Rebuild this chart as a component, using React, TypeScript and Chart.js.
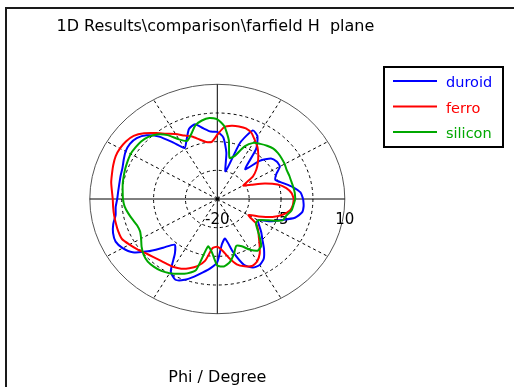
import React, { useEffect, useRef } from "react";
import { Chart, registerables } from "chart.js";

Chart.register(...registerables);

// Phi angles (degrees, counter-clockwise from the right-hand horizontal axis)
const phi = [
  0, 5, 10, 15, 20, 25, 30, 35, 40, 45, 50, 55,
  60, 65, 70, 75, 80, 85, 90, 95, 100, 105, 110, 115,
  120, 125, 130, 135, 140, 145, 150, 155, 160, 165, 170, 175,
  180, 185, 190, 195, 200, 205, 210, 215, 220, 225, 230, 235,
  240, 245, 250, 255, 260, 265, 270, 275, 280, 285, 290, 295,
  300, 305, 310, 315, 320, 325, 330, 335, 340, 345, 350, 355,
];

// Farfield values (dB)
const duroid = [
  0.2, -0.35, -2.0, -3.95, -5.45, -4.7, -3.0, -2.95, -3.5, -5.9, -9.8, -4.1,
  -1.1, -0.2, -4.4, -12.5, -7.7, -3.8, -2.45, -2.3, -1.25, 0.25, -0.5, -2.9,
  -4.6, -2.0, 1.3, 3.55, 4.75, 5.1, 4.9, 4.3, 3.75, 3.55, 3.4, 3.4,
  3.55, 4.0, 4.3, 5.35, 6.1, 6.4, 5.7, 4.3, 1.3, -2.0, -4.4, -2.6,
  1.9, 3.3, 2.5, 1.0, -0.5, -1.85, -3.5, -8.0, -9.5, -5.6, -1.7, -0.2,
  -0.05, -0.95, -2.9, -5.0, -6.5, -8.0, -8.9, -6.2, -3.95, -1.1, 0.25, 0.4,
];

const ferro = [
  -2.0, -2.45, -3.5, -5.3, -8.15, -11.15, -12.95, -9.8, -8.0, -6.5, -5.0, -3.5,
  -2.3, -0.95, -0.35, -0.35, -0.55, -1.1, -3.2, -5.0, -4.85, -3.9, -2.6, -1.7,
  -0.35, 0.85, 2.55, 4.35, 5.7, 6.25, 6.45, 6.4, 6.05, 5.65, 5.35, 4.9,
  4.6, 4.6, 4.65, 4.7, 4.8, 4.75, 3.85, 2.95, 2.05, 1.4, 0.95, 0.7,
  0.55, 0.1, -0.75, -1.85, -3.65, -7.1, -7.5, -6.5, -4.4, -2.3, -1.25, -0.65,
  -1.2, -2.6, -4.55, -6.2, -7.45, -8.9, -11.6, -9.2, -6.2, -4.1, -2.65, -2.15,
];

const silicon = [
  -1.65, -1.7, -1.85, -2.0, -2.0, -2.0, -1.7, -1.5, -1.35, -1.35, -1.8, -2.4,
  -3.05, -4.8, -8.0, -8.9, -4.4, -0.9, 0.85, 1.25, 0.85, -0.05, -2.0, -3.2,
  -2.0, 0.4, 2.05, 2.95, 3.4, 3.5, 3.55, 3.3, 3.05, 2.8, 2.6, 2.35,
  2.2, 1.9, 1.3, 0.65, 0.1, 0.05, 0.7, 1.75, 2.65, 3.15, 3.15, 2.95,
  2.4, 1.6, 0.7, -0.8, -7.4, -5.9, -2.6, -2.3, -3.2, -5.0, -6.95, -6.35,
  -4.7, -3.5, -3.95, -5.9, -7.7, -8.9, -8.9, -6.8, -3.65, -3.2, -2.3, -2.0,
];

const seriesNames = ["duroid", "ferro", "silicon"];
const seriesValues = [duroid, ferro, silicon];
const seriesColors = ["#0000ff", "#ff0000", "#00a800"];

const radialMin = -20;
const radialMax = 10;
const ringValues = [-12.5, -5, 2.5];
const tickValues = [-20, -5, 10];
const tickLabels = ["-20", "-5", "10"];
const spokeAngles = [30, 60, 120, 150, 210, 240, 300, 330];

const titleText = "1D Results\\comparison\\farfield H  plane";
const axisLabel = "Phi / Degree";

const FONT = "'DejaVu Sans', Verdana, sans-serif";

function radius(v: number) {
  return (v - radialMin) / (radialMax - radialMin);
}

function toPoints(values: number[]) {
  const pts = phi.map((p, i) => {
    const r = radius(values[i]);
    const a = (p * Math.PI) / 180;
    return { x: r * Math.cos(a), y: r * Math.sin(a) };
  });
  pts.push(pts[0]);
  return pts;
}

const polarGrid = {
  id: "polarGrid",
  beforeDatasetsDraw(chart: any) {
    const ctx = chart.ctx as CanvasRenderingContext2D;
    const xs = chart.scales.x;
    const ys = chart.scales.y;
    const cx = xs.getPixelForValue(0);
    const cy = ys.getPixelForValue(0);
    const rx = (v: number) => xs.getPixelForValue(radius(v)) - cx;
    const ry = (v: number) => cy - ys.getPixelForValue(radius(v));
    ctx.save();

    // frame
    ctx.strokeStyle = "#1a1a1a";
    ctx.lineWidth = 2;
    ctx.strokeRect(6, 8, 700, 600);

    // dashed rings
    ctx.lineWidth = 1;
    ctx.strokeStyle = "#000";
    ctx.setLineDash([3, 3]);
    ringValues.forEach((v) => {
      ctx.beginPath();
      ctx.ellipse(cx, cy, rx(v), ry(v), 0, 0, Math.PI * 2);
      ctx.stroke();
    });
    // dashed spokes
    spokeAngles.forEach((a) => {
      const t = (a * Math.PI) / 180;
      ctx.beginPath();
      ctx.moveTo(cx, cy);
      ctx.lineTo(xs.getPixelForValue(Math.cos(t)), ys.getPixelForValue(Math.sin(t)));
      ctx.stroke();
    });
    ctx.setLineDash([]);

    // outer ellipse
    ctx.strokeStyle = "#555";
    ctx.beginPath();
    ctx.ellipse(cx, cy, rx(radialMax), ry(radialMax), 0, 0, Math.PI * 2);
    ctx.stroke();

    // main axes
    ctx.strokeStyle = "#000";
    ctx.beginPath();
    ctx.moveTo(xs.getPixelForValue(-1), cy);
    ctx.lineTo(xs.getPixelForValue(1), cy);
    ctx.moveTo(cx, ys.getPixelForValue(1));
    ctx.lineTo(cx, ys.getPixelForValue(-1));
    ctx.stroke();

    // radial tick labels
    ctx.fillStyle = "#000";
    ctx.font = `15px ${FONT}`;
    ctx.textAlign = "center";
    ctx.textBaseline = "alphabetic";
    tickValues.forEach((v, i) => {
      ctx.fillText(tickLabels[i], xs.getPixelForValue(radius(v)), cy + 24.5);
    });
    ctx.restore();
  },
  afterDraw(chart: any) {
    const ctx = chart.ctx as CanvasRenderingContext2D;
    const xs = chart.scales.x;
    const cx = xs.getPixelForValue(0);
    ctx.save();
    // title
    ctx.fillStyle = "#000";
    ctx.font = `16px ${FONT}`;
    ctx.textAlign = "left";
    ctx.textBaseline = "alphabetic";
    ctx.fillText(titleText, 56.5, 30.5);

    // axis label
    ctx.textAlign = "center";
    ctx.fillText(axisLabel, cx, 381.5);

    // legend
    ctx.strokeStyle = "#000";
    ctx.lineWidth = 2;
    ctx.strokeRect(384, 67, 119, 80);
    ctx.font = `14.5px ${FONT}`;
    ctx.textAlign = "left";
    seriesNames.forEach((name, i) => {
      const ly = 81 + i * 25.5;
      ctx.strokeStyle = seriesColors[i];
      ctx.lineWidth = 2;
      ctx.beginPath();
      ctx.moveTo(393, ly);
      ctx.lineTo(437, ly);
      ctx.stroke();
      ctx.fillStyle = seriesColors[i];
      ctx.fillText(name, 446, ly + 6.3);
    });
    ctx.restore();
  },
};

export default function App() {
  const canvasRef = useRef<HTMLCanvasElement | null>(null);

  useEffect(() => {
    if (!canvasRef.current) return;
    const chart = new Chart(canvasRef.current, {
      type: "scatter",
      data: {
        datasets: seriesNames.map((name, i) => ({
          label: name,
          data: toPoints(seriesValues[i]),
          showLine: true,
          borderColor: seriesColors[i],
          backgroundColor: seriesColors[i],
          borderWidth: 2,
          pointRadius: 0,
          pointHoverRadius: 0,
          fill: false,
          tension: 0.2,
          order: seriesNames.length - 1 - i,
        })),
      },
      options: {
        animation: false,
        responsive: false,
        events: [],
        layout: { padding: { left: 89.8, right: 169.2, top: 84.3, bottom: 73.3 } },
        scales: {
          x: { type: "linear", min: -1, max: 1, display: false },
          y: { type: "linear", min: -1, max: 1, display: false },
        },
        plugins: {
          legend: { display: false },
          tooltip: { enabled: false },
          title: { display: false },
        },
      },
      plugins: [polarGrid],
    } as any);
    return () => chart.destroy();
  }, []);

  return (
    <div style={{ position: "fixed", left: 0, top: 0, width: 514, height: 387, background: "#fff" }}>
      <canvas ref={canvasRef} width={514} height={387} style={{ display: "block" }} />
    </div>
  );
}
